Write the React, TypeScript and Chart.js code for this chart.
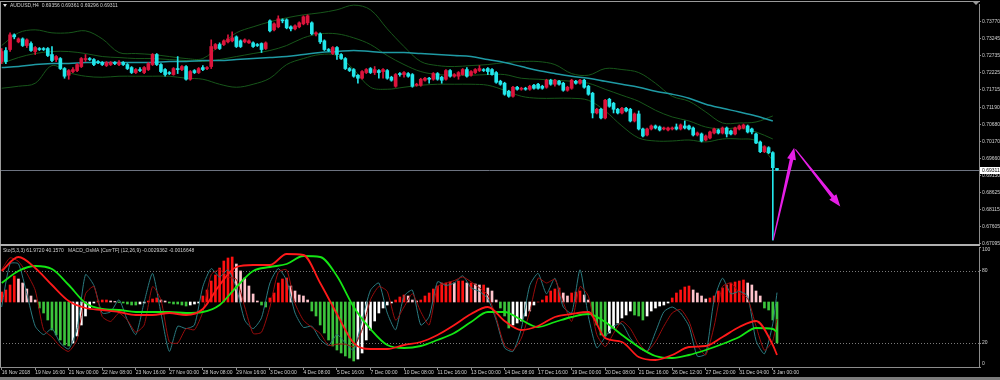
import React, { useEffect, useRef } from "react";
import { Chart, registerables } from "chart.js";
Chart.register(...registerables);

// ---------- Price data (AUDUSD H4) ----------
const open = [
0.7256,0.7289,0.7292,0.7336,0.7315,0.7324,0.7304,0.7310,0.7286,0.7295,
0.7295,0.7295,0.7277,0.7262,0.7265,0.7235,0.7215,0.7226,0.7229,0.7241,
0.7262,0.7265,0.7262,0.7256,0.7253,0.7244,0.7247,0.7253,0.7247,0.7253,
0.7247,0.7238,0.7223,0.7232,0.7223,0.7232,0.7247,0.7277,0.7247,0.7232,
0.7223,0.7217,0.7235,0.7232,0.7241,0.7203,0.7229,0.7223,0.7238,0.7235,
0.7241,0.7295,0.7307,0.7307,0.7315,0.7318,0.7330,0.7318,0.7315,0.7312,
0.7312,0.7307,0.7310,0.7295,0.7378,0.7351,0.7360,0.7381,0.7381,0.7360,
0.7354,0.7360,0.7369,0.7372,0.7372,0.7339,0.7339,0.7318,0.7292,0.7280,
0.7298,0.7277,0.7265,0.7235,0.7232,0.7215,0.7206,0.7223,0.7235,0.7223,
0.7229,0.7226,0.7229,0.7209,0.7182,0.7220,0.7217,0.7220,0.7217,0.7185,
0.7185,0.7200,0.7206,0.7203,0.7220,0.7209,0.7203,0.7229,0.7212,0.7212,
0.7217,0.7232,0.7215,0.7223,0.7229,0.7232,0.7235,0.7232,0.7223,0.7197,
0.7191,0.7167,0.7152,0.7179,0.7173,0.7176,0.7173,0.7185,0.7188,0.7182,
0.7179,0.7200,0.7188,0.7197,0.7191,0.7170,0.7176,0.7197,0.7191,0.7200,
0.7182,0.7161,0.7102,0.7113,0.7087,0.7143,0.7131,0.7113,0.7102,0.7116,
0.7113,0.7078,0.7099,0.7054,0.7036,0.7054,0.7063,0.7060,0.7054,0.7051,
0.7054,0.7060,0.7054,0.7063,0.7063,0.7057,0.7036,0.7039,0.7021,0.7027,
0.7042,0.7051,0.7042,0.7057,0.7048,0.7039,0.7054,0.7057,0.7063,0.7054,
0.7039,0.7015,0.6986,0.6998,0.6983,0.69356];
const high = [
0.7295,0.7298,0.7342,0.7339,0.7327,0.7327,0.7324,0.7315,0.7301,0.7298,
0.7298,0.7298,0.7301,0.7274,0.7268,0.7238,0.7232,0.7238,0.7250,0.7268,
0.7277,0.7268,0.7265,0.7259,0.7256,0.7256,0.7256,0.7256,0.7259,0.7256,
0.7250,0.7241,0.7235,0.7238,0.7241,0.7253,0.7280,0.7280,0.7250,0.7235,
0.7226,0.7238,0.7271,0.7244,0.7244,0.7229,0.7232,0.7238,0.7244,0.7241,
0.7321,0.7310,0.7312,0.7321,0.7336,0.7345,0.7333,0.7321,0.7324,0.7321,
0.7315,0.7310,0.7312,0.7315,0.7381,0.7372,0.7393,0.7384,0.7384,0.7363,
0.7366,0.7375,0.7393,0.7396,0.7375,0.7345,0.7342,0.7321,0.7295,0.7301,
0.7301,0.7280,0.7268,0.7238,0.7235,0.7217,0.7229,0.7235,0.7238,0.7241,
0.7232,0.7235,0.7232,0.7212,0.7220,0.7223,0.7226,0.7223,0.7220,0.7191,
0.7206,0.7209,0.7209,0.7223,0.7223,0.7212,0.7232,0.7232,0.7220,0.7226,
0.7235,0.7238,0.7229,0.7235,0.7244,0.7235,0.7238,0.7235,0.7226,0.7200,
0.7194,0.7170,0.7182,0.7182,0.7179,0.7179,0.7185,0.7188,0.7191,0.7185,
0.7203,0.7203,0.7203,0.7200,0.7194,0.7182,0.7203,0.7200,0.7203,0.7203,
0.7185,0.7164,0.7116,0.7116,0.7143,0.7146,0.7134,0.7116,0.7119,0.7119,
0.7116,0.7102,0.7108,0.7057,0.7057,0.7066,0.7066,0.7063,0.7060,0.7060,
0.7060,0.7069,0.7069,0.7078,0.7066,0.7060,0.7045,0.7042,0.7036,0.7048,
0.7057,0.7054,0.7060,0.7060,0.7051,0.7060,0.7066,0.7069,0.7066,0.7057,
0.7042,0.7018,0.7004,0.7001,0.6986,0.69361];
const low = [
0.7250,0.7250,0.7286,0.7324,0.7312,0.7301,0.7298,0.7286,0.7277,0.7289,
0.7289,0.7271,0.7256,0.7256,0.7232,0.7206,0.7203,0.7223,0.7226,0.7238,
0.7256,0.7259,0.7244,0.7250,0.7244,0.7241,0.7244,0.7247,0.7244,0.7244,
0.7232,0.7220,0.7220,0.7226,0.7220,0.7229,0.7244,0.7244,0.7223,0.7212,
0.7217,0.7215,0.7220,0.7229,0.7200,0.7200,0.7220,0.7220,0.7229,0.7232,
0.7235,0.7292,0.7292,0.7304,0.7312,0.7315,0.7298,0.7298,0.7312,0.7310,
0.7298,0.7301,0.7283,0.7292,0.7345,0.7348,0.7357,0.7372,0.7354,0.7348,
0.7351,0.7357,0.7366,0.7366,0.7336,0.7333,0.7310,0.7289,0.7286,0.7277,
0.7262,0.7262,0.7232,0.7226,0.7209,0.7191,0.7203,0.7220,0.7220,0.7217,
0.7206,0.7206,0.7203,0.7197,0.7179,0.7212,0.7209,0.7209,0.7179,0.7182,
0.7182,0.7197,0.7191,0.7200,0.7200,0.7191,0.7200,0.7209,0.7209,0.7203,
0.7215,0.7209,0.7212,0.7220,0.7226,0.7226,0.7217,0.7215,0.7191,0.7185,
0.7155,0.7149,0.7149,0.7170,0.7170,0.7170,0.7170,0.7173,0.7173,0.7173,
0.7176,0.7185,0.7182,0.7185,0.7167,0.7167,0.7173,0.7188,0.7188,0.7176,
0.7155,0.7087,0.7099,0.7084,0.7084,0.7119,0.7102,0.7099,0.7099,0.7105,
0.7075,0.7075,0.7051,0.7030,0.7033,0.7051,0.7054,0.7048,0.7051,0.7048,
0.7051,0.7051,0.7051,0.7054,0.7051,0.7033,0.7033,0.7015,0.7018,0.7024,
0.7039,0.7039,0.7039,0.7030,0.7036,0.7036,0.7051,0.7054,0.7042,0.7039,
0.7010,0.6983,0.6983,0.6980,0.6721,0.69296];
const close = [
0.7286,0.7256,0.7336,0.7330,0.7324,0.7304,0.7321,0.7289,0.7298,0.7292,
0.7292,0.7274,0.7259,0.7271,0.7235,0.7212,0.7229,0.7232,0.7247,0.7265,
0.7265,0.7262,0.7247,0.7253,0.7247,0.7253,0.7253,0.7250,0.7253,0.7247,
0.7235,0.7223,0.7232,0.7229,0.7238,0.7250,0.7277,0.7247,0.7226,0.7217,
0.7220,0.7235,0.7232,0.7241,0.7203,0.7226,0.7223,0.7235,0.7232,0.7238,
0.7301,0.7307,0.7295,0.7318,0.7324,0.7327,0.7301,0.7301,0.7321,0.7318,
0.7301,0.7304,0.7292,0.7312,0.7348,0.7369,0.7384,0.7378,0.7357,0.7354,
0.7363,0.7372,0.7390,0.7393,0.7339,0.7342,0.7315,0.7292,0.7289,0.7298,
0.7277,0.7265,0.7235,0.7229,0.7212,0.7206,0.7226,0.7232,0.7223,0.7232,
0.7223,0.7232,0.7206,0.7200,0.7217,0.7217,0.7223,0.7212,0.7182,0.7188,
0.7203,0.7206,0.7203,0.7220,0.7203,0.7200,0.7229,0.7212,0.7217,0.7223,
0.7232,0.7212,0.7226,0.7232,0.7235,0.7229,0.7226,0.7217,0.7194,0.7188,
0.7158,0.7152,0.7179,0.7173,0.7176,0.7173,0.7182,0.7176,0.7176,0.7176,
0.7200,0.7188,0.7200,0.7188,0.7170,0.7179,0.7200,0.7191,0.7200,0.7179,
0.7158,0.7102,0.7113,0.7087,0.7140,0.7122,0.7113,0.7102,0.7116,0.7108,
0.7078,0.7099,0.7054,0.7033,0.7054,0.7063,0.7057,0.7051,0.7057,0.7057,
0.7057,0.7054,0.7066,0.7057,0.7054,0.7036,0.7042,0.7018,0.7033,0.7045,
0.7054,0.7042,0.7057,0.7039,0.7039,0.7057,0.7063,0.7066,0.7045,0.7045,
0.7012,0.6986,0.7001,0.6983,0.6938,0.69311];

// ---------- Bollinger bands and moving average (sampled every 4 bars) ----------
const bandIdx = [0,4,8,12,16,20,24,28,32,36,40,44,48,52,56,60,64,68,72,76,80,84,88,92,96,100,104,108,112,116,120,124,128,132,136,140,144,148,152,156,160,164,168,172,176,180,184];
const bbUpper = [0.7304,0.7342,0.7351,0.7342,0.7342,0.7348,0.7324,0.7283,0.7280,0.7277,0.7271,0.7265,0.7265,0.7304,0.7342,0.7360,0.7375,0.7387,0.7396,0.7402,0.7411,0.7425,0.7411,0.7354,0.7301,0.7256,0.7244,0.7241,0.7244,0.7247,0.7253,0.7256,0.7256,0.7247,0.7220,0.7215,0.7235,0.7232,0.7223,0.7191,0.7152,0.7137,0.7105,0.7072,0.7072,0.7075,0.7093];
const bbMiddle = [0.7250,0.7268,0.7280,0.7286,0.7286,0.7280,0.7271,0.7268,0.7265,0.7265,0.7262,0.7259,0.7256,0.7262,0.7271,0.7280,0.7289,0.7304,0.7327,0.7339,0.7339,0.7327,0.7307,0.7274,0.7247,0.7226,0.7217,0.7215,0.7215,0.7217,0.7217,0.7206,0.7203,0.7200,0.7197,0.7191,0.7173,0.7155,0.7137,0.7110,0.7090,0.7078,0.7060,0.7054,0.7057,0.7045,0.7024];
const bbLower = [0.7176,0.7182,0.7191,0.7244,0.7223,0.7212,0.7209,0.7212,0.7212,0.7212,0.7212,0.7206,0.7203,0.7188,0.7179,0.7188,0.7206,0.7247,0.7265,0.7277,0.7274,0.7232,0.7179,0.7173,0.7179,0.7185,0.7188,0.7188,0.7188,0.7185,0.7170,0.7152,0.7146,0.7146,0.7146,0.7140,0.7108,0.7063,0.7027,0.7018,0.7018,0.7021,0.7015,0.7024,0.7024,0.7018,0.6959];
const maLine = [0.7238,0.7241,0.7247,0.7250,0.7250,0.7253,0.7253,0.7253,0.7253,0.7253,0.7256,0.7256,0.7259,0.7259,0.7262,0.7265,0.7268,0.7271,0.7277,0.7283,0.7286,0.7289,0.7286,0.7283,0.7283,0.7280,0.7277,0.7274,0.7271,0.7262,0.7253,0.7241,0.7229,0.7220,0.7212,0.7206,0.7197,0.7188,0.7179,0.7167,0.7158,0.7146,0.7128,0.7116,0.7105,0.7093,0.7078];

// ---------- Axis ticks / labels ----------
const priceTicks = [0.73770,0.73245,0.72735,0.72225,0.71715,0.71190,0.70680,0.70170,0.69660,0.69150,0.68625,0.68115,0.67605,0.67095];
const timeIdx = [0,8,16,24,32,40,48,56,64,72,80,88,96,104,112,120,128,136,144,152,160,168,176,184];
const timeLabels = ["16 Nov 2018","19 Nov 16:00","21 Nov 00:00","22 Nov 08:00","23 Nov 16:00","27 Nov 00:00","28 Nov 08:00","29 Nov 16:00","3 Dec 00:00","4 Dec 08:00","5 Dec 16:00","7 Dec 00:00","10 Dec 08:00","11 Dec 16:00","13 Dec 00:00","14 Dec 08:00","17 Dec 16:00","19 Dec 00:00","20 Dec 08:00","21 Dec 16:00","26 Dec 12:00","27 Dec 20:00","31 Dec 04:00","3 Jan 00:00"];
const oscTicks = [0, 20, 80, 100];
const oscLevels = [80, 20];

// ---------- Stochastic (5,3,3), sampled every 2 bars ----------
const stochIdx = [0,2,4,6,8,10,12,14,16,18,20,22,24,26,28,30,32,34,36,38,40,42,44,46,48,50,52,54,56,58,60,62,64,66,68,70,72,74,76,78,80,82,84,86,88,90,92,94,96,98,100,102,104,106,108,110,112,114,116,118,120,122,124,126,128,130,132,134,136,138,140,142,144,146,148,150,152,154,156,158,160,162,164,166,168,170,172,174,176,178,180,182,184,185];
const stochMain = [50,86,86,61,34,27,32,20,15,32,77,68,45,46,56,39,27,54,78,45,13,34,32,35,67,82,75,81,66,39,32,41,70,82,72,45,33,34,23,18,27,20,14,39,64,70,45,31,59,64,35,42,71,68,70,76,66,63,57,39,16,13,32,68,78,61,74,50,45,81,42,16,25,34,36,24,16,13,29,46,50,45,34,9,11,56,74,61,63,59,22,11,36,62];
const stochSignal = [81,91,88,78,64,31,25,17,13,23,61,67,42,38,45,39,29,35,67,56,21,20,32,31,46,77,81,75,73,50,28,29,50,79,81,53,39,33,28,18,19,19,17,31,56,67,63,39,50,61,46,35,67,70,72,75,71,66,60,41,18,14,24,46,74,70,73,54,38,67,59,27,17,28,38,32,20,13,21,34,45,48,38,18,10,34,67,70,62,57,34,14,22,40];

// ---------- MACD OsMA (12,26,9) ----------
const macdIdx = [0,4,8,12,16,20,24,28,32,36,40,44,48,52,56,60,64,68,72,76,80,84,88,92,96,100,104,108,112,116,120,124,128,132,136,140,144,148,152,156,160,164,168,172,176,180,184,185];
const macdMain = [0.0031,0.0045,0.0034,0.0017,0.0001,-0.0006,-0.0008,-0.0010,-0.0013,-0.0013,-0.0011,-0.0013,-0.0007,0.0017,0.0035,0.0037,0.0037,0.0048,0.0047,0.0019,-0.0012,-0.0041,-0.0047,-0.0047,-0.0043,-0.0040,-0.0033,-0.0023,-0.0012,-0.0005,-0.0019,-0.0028,-0.0024,-0.0015,-0.0012,-0.0010,-0.0036,-0.0040,-0.0055,-0.0058,-0.0053,-0.0045,-0.0044,-0.0035,-0.0025,-0.0019,-0.0043,-0.0053];
const macdSignal = [0.0019,0.0031,0.0036,0.0033,0.0017,-0.0001,-0.0007,-0.0008,-0.0010,-0.0010,-0.0010,-0.0011,-0.0010,-0.0003,0.0015,0.0031,0.0035,0.0038,0.0046,0.0045,0.0026,-0.0005,-0.0027,-0.0043,-0.0046,-0.0044,-0.0038,-0.0031,-0.0020,-0.0010,-0.0010,-0.0018,-0.0025,-0.0020,-0.0015,-0.0012,-0.0020,-0.0033,-0.0045,-0.0054,-0.0056,-0.0053,-0.0048,-0.0042,-0.0035,-0.0026,-0.0027,-0.0030];
const osma = [
0.0010,0.0012,0.0017,0.0026,0.0023,0.0019,0.0013,0.0006,0.0002,-0.0006,
-0.0011,-0.0018,-0.0028,-0.0033,-0.0038,-0.0043,-0.0044,-0.0041,-0.0034,-0.0023,
-0.0014,-0.0006,-0.0001,0.0001,0.0002,0.0002,0.0001,0.00005,-0.00005,-0.0001,
-0.0002,-0.0003,-0.0003,-0.0002,-0.0001,0.0001,0.0003,0.0004,0.0002,0.0001,
-0.0001,-0.0002,-0.0002,-0.0003,-0.0004,-0.0003,-0.0002,-0.0001,0.0006,0.0012,
0.0021,0.0027,0.0034,0.0041,0.0044,0.0045,0.0038,0.0031,0.0024,0.0016,
0.0008,0.0001,-0.0003,-0.0005,0.0004,0.0009,0.0019,0.0023,0.0024,0.0016,
0.0011,0.0007,0.0006,0.0002,-0.0009,-0.0014,-0.0023,-0.0031,-0.0038,-0.0044,
-0.0048,-0.0051,-0.0054,-0.0056,-0.0059,-0.0057,-0.0051,-0.0038,-0.0028,-0.0019,
-0.0011,-0.0006,-0.0003,-0.0001,0.0002,0.0005,0.0007,0.0006,0.0002,0.0001,
0.0002,0.0006,0.0009,0.0013,0.0016,0.0019,0.0019,0.0020,0.0019,0.0021,
0.0021,0.0019,0.0019,0.0018,0.0017,0.0017,0.0014,0.0011,0.0002,-0.0006,
-0.0014,-0.0026,-0.0023,-0.0021,-0.0019,-0.0014,-0.0009,-0.0003,0.0000,0.0002,
0.0006,0.0011,0.0013,0.0014,0.0009,0.0006,0.0009,0.0010,0.0011,0.0007,
0.0002,-0.0014,-0.0023,-0.0033,-0.0034,-0.0031,-0.0026,-0.0021,-0.0016,-0.0013,
-0.0009,-0.0013,-0.0014,-0.0018,-0.0014,-0.0009,-0.0006,-0.0004,-0.0003,-0.0001,
0.0004,0.0009,0.0012,0.0015,0.0016,0.0012,0.0009,0.0006,0.0003,0.0004,
0.0006,0.0011,0.0014,0.0017,0.0019,0.0020,0.0021,0.0022,0.0019,0.0017,
0.0011,0.0006,-0.0006,-0.0008,-0.0018,-0.0041];

// ---------- Drawn objects (arrows) in bar-index / price terms ----------
const arrowFromIdx = [184.1, 189.4];
const arrowFromPrice = [0.6721, 0.6993];
const arrowToIdx = [189.1, 200.1];
const arrowToPrice = [0.6998, 0.6822];

const symbolTitle = "AUDUSD,H4";
const oscTitle = "Sto(5,3,3) 61.9720 40.1570   MACD_OsMA [CurrTF] (12,26,9) -0.0029362 -0.0016648";

const FONT = "'Liberation Sans', Arial, sans-serif";
const UP = "#dc143c";
const DOWN = "#22e6ea";
const BB = "#17561a";
const MA = "#1f9aa4";
const AXIS = "#8c8c8c";
const TXT = "#d0d0d0";
const X_MIN = -0.4;
const X_MAX = 233.2;
const P_MIN = 0.67064;
const P_MAX = 0.74284;

function drawArrow(ctx: CanvasRenderingContext2D, x0: number, y0: number, x1: number, y1: number) {
  const dx = x1 - x0, dy = y1 - y0;
  const len = Math.hypot(dx, dy);
  const ux = dx / len, uy = dy / len, nx = -uy, ny = ux;
  const headL = 12, headW = 4.5, w0 = 0.5, w1 = 1.8;
  const bx = x1 - ux * headL, by = y1 - uy * headL;
  ctx.beginPath();
  ctx.moveTo(x0 + nx * w0, y0 + ny * w0);
  ctx.lineTo(bx + nx * w1, by + ny * w1);
  ctx.lineTo(bx + nx * headW, by + ny * headW);
  ctx.lineTo(x1, y1);
  ctx.lineTo(bx - nx * headW, by - ny * headW);
  ctx.lineTo(bx - nx * w1, by - ny * w1);
  ctx.lineTo(x0 - nx * w0, y0 - ny * w0);
  ctx.closePath();
  ctx.fill();
}

export default function App() {
  const topRef = useRef<HTMLCanvasElement | null>(null);
  const botRef = useRef<HTMLCanvasElement | null>(null);

  useEffect(() => {
    document.body.style.margin = "0";
    document.body.style.background = "#000";
    const n = open.length;
    const idx = open.map((_, i) => i);
    const candleColor = idx.map((i) => (close[i] > open[i] ? UP : DOWN));
    const last = n - 1;
    const bid = close[last];

    const topDecor = {
      id: "topDecor",
      beforeDatasetsDraw(chart: any) {
        const { ctx, chartArea: a, scales } = chart;
        const y = Math.round(scales.y.getPixelForValue(bid)) + 0.5;
        ctx.save();
        ctx.strokeStyle = "#6d7380";
        ctx.lineWidth = 1;
        ctx.beginPath();
        ctx.moveTo(a.left, y);
        ctx.lineTo(a.right, y);
        ctx.stroke();
        ctx.restore();
      },
      afterDatasetsDraw(chart: any) {
        const { ctx, scales } = chart;
        ctx.save();
        ctx.fillStyle = "#e61ee6";
        for (let k = 0; k < arrowFromIdx.length; k++) {
          drawArrow(
            ctx,
            scales.x.getPixelForValue(arrowFromIdx[k]),
            scales.y.getPixelForValue(arrowFromPrice[k]),
            scales.x.getPixelForValue(arrowToIdx[k]),
            scales.y.getPixelForValue(arrowToPrice[k])
          );
        }
        ctx.restore();
      },
      afterDraw(chart: any) {
        const { ctx, chartArea: a, scales } = chart;
        ctx.save();
        ctx.fillStyle = "#9a9a9a";
        ctx.fillRect(0, 1, a.right + 1, 1);
        ctx.fillRect(0, 1, 1, 245);
        ctx.fillStyle = "#b0b0b0";
        ctx.fillRect(0, 244, a.right + 1, 2);
        ctx.fillStyle = "#9a9a9a";
        ctx.beginPath();
        ctx.moveTo(973, 2);
        ctx.lineTo(979, 2);
        ctx.lineTo(976, 5);
        ctx.closePath();
        ctx.fill();
        ctx.fillStyle = "#e0e0e0";
        ctx.beginPath();
        ctx.moveTo(3, 4);
        ctx.lineTo(7, 4);
        ctx.lineTo(5, 7);
        ctx.closePath();
        ctx.fill();
        ctx.font = `5px ${FONT}`;
        ctx.textBaseline = "middle";
        ctx.fillStyle = TXT;
        const hdr = `${symbolTitle}  ${open[last].toFixed(5)} ${high[last].toFixed(5)} ${low[last].toFixed(5)} ${close[last].toFixed(5)}`;
        ctx.fillText(hdr, 10, 5.5);
        const y = Math.round(scales.y.getPixelForValue(bid));
        ctx.fillStyle = "#ffffff";
        ctx.fillRect(980, y - 3, 20, 7);
        ctx.fillStyle = "#000000";
        ctx.fillText(bid.toFixed(5), 982, y + 0.5);
        ctx.restore();
      },
    };

    const botDecor = {
      id: "botDecor",
      beforeDatasetsDraw(chart: any) {
        const { ctx, chartArea: a, scales } = chart;
        ctx.save();
        ctx.strokeStyle = "#7a7a7a";
        ctx.lineWidth = 1;
        ctx.setLineDash([1, 2]);
        oscLevels.forEach((lv) => {
          const y = Math.round(scales.y.getPixelForValue(lv)) + 0.5;
          ctx.beginPath();
          ctx.moveTo(a.left, y);
          ctx.lineTo(a.right, y);
          ctx.stroke();
        });
        ctx.restore();
      },
      afterDraw(chart: any) {
        const { ctx, chartArea: a } = chart;
        ctx.save();
        ctx.fillStyle = "#9a9a9a";
        ctx.fillRect(0, 6, 1, a.bottom - 6);
        ctx.fillStyle = "#7c7c7c";
        ctx.fillRect(0, 137, 1000, 3);
        ctx.font = `5px ${FONT}`;
        ctx.textBaseline = "middle";
        ctx.fillStyle = TXT;
        ctx.fillText(oscTitle, 3, 10.5);
        ctx.restore();
      },
    };

    const top = new Chart(topRef.current as HTMLCanvasElement, {
      type: "bar",
      data: {
        datasets: [
          {
            type: "bar",
            data: idx.map((i) => ({ x: i, y: [open[i], close[i]] })) as any,
            backgroundColor: candleColor,
            borderWidth: 0,
            barThickness: 3,
            grouped: false,
            order: 0,
          },
          {
            type: "bar",
            data: idx.map((i) => ({ x: i, y: [low[i], high[i]] })) as any,
            backgroundColor: candleColor,
            borderWidth: 0,
            barThickness: 1,
            grouped: false,
            order: 1,
          },
          {
            type: "line",
            data: bandIdx.map((x, k) => ({ x, y: bbUpper[k] })),
            borderColor: BB, borderWidth: 1, pointRadius: 0, tension: 0.35, order: 3,
          },
          {
            type: "line",
            data: bandIdx.map((x, k) => ({ x, y: bbMiddle[k] })),
            borderColor: BB, borderWidth: 1, pointRadius: 0, tension: 0.35, order: 3,
          },
          {
            type: "line",
            data: bandIdx.map((x, k) => ({ x, y: bbLower[k] })),
            borderColor: BB, borderWidth: 1, pointRadius: 0, tension: 0.35, order: 3,
          },
          {
            type: "line",
            data: bandIdx.map((x, k) => ({ x, y: maLine[k] })),
            borderColor: MA, borderWidth: 1.5, pointRadius: 0, tension: 0.35, order: 2,
          },
        ] as any,
      },
      options: {
        animation: false,
        responsive: false,
        devicePixelRatio: 1,
        events: [],
        layout: { padding: { top: 2, bottom: 5, left: 0, right: 0 } },
        plugins: { legend: { display: false }, tooltip: { enabled: false } },
        scales: {
          x: {
            type: "linear", min: X_MIN, max: X_MAX, offset: false, display: false,
            grid: { offset: false },
          },
          y: {
            type: "linear", position: "right", min: P_MIN, max: P_MAX,
            afterBuildTicks: (s: any) => { s.ticks = priceTicks.map((v) => ({ value: v })); },
            afterFit: (s: any) => { s.width = 21; },
            ticks: {
              autoSkip: false, padding: 1, color: TXT,
              font: { family: FONT, size: 5 },
              callback: (v: any) => Number(v).toFixed(5),
            },
            grid: { drawOnChartArea: false, drawTicks: true, tickLength: 2, color: AXIS },
            border: { display: true, color: AXIS },
          },
        },
      } as any,
      plugins: [topDecor],
    });

    const bot = new Chart(botRef.current as HTMLCanvasElement, {
      type: "bar",
      data: {
        datasets: [
          {
            type: "line",
            yAxisID: "yh",
            data: macdIdx.map((x, k) => ({ x, y: macdMain[k] })),
            borderColor: "#ff1a1a", borderWidth: 1.8, pointRadius: 0,
            cubicInterpolationMode: "monotone", order: 0,
          },
          {
            type: "line",
            yAxisID: "yh",
            data: macdIdx.map((x, k) => ({ x, y: macdSignal[k] })),
            borderColor: "#14e614", borderWidth: 1.8, pointRadius: 0,
            cubicInterpolationMode: "monotone", order: 1,
          },
          {
            type: "line",
            yAxisID: "y",
            data: stochIdx.map((x, k) => ({ x, y: stochSignal[k] })),
            borderColor: "#9a0c0c", borderWidth: 1, pointRadius: 0, tension: 0.2, order: 2,
          },
          {
            type: "line",
            yAxisID: "y",
            data: stochIdx.map((x, k) => ({ x, y: stochMain[k] })),
            borderColor: "#2a7b80", borderWidth: 1, pointRadius: 0, tension: 0.2, order: 3,
          },
          {
            type: "bar",
            yAxisID: "yh",
            data: osma.map((v, i) => ({ x: i, y: [0, v] })) as any,
            backgroundColor: osma.map((v, i) => {
              const prev = i > 0 ? osma[i - 1] : 0;
              if (v >= 0) return v >= prev ? "#ff1010" : "#ffc4cc";
              return v <= prev ? "#3cc43c" : "#ffffff";
            }),
            borderWidth: 0, barThickness: 2, grouped: false, order: 4,
          },
        ] as any,
      },
      options: {
        animation: false,
        responsive: false,
        devicePixelRatio: 1,
        events: [],
        layout: { padding: { top: 7, bottom: 0, left: 0, right: 0 } },
        plugins: { legend: { display: false }, tooltip: { enabled: false } },
        scales: {
          x: {
            type: "linear", min: X_MIN, max: X_MAX, offset: false, position: "bottom",
            afterBuildTicks: (s: any) => { s.ticks = timeIdx.map((v) => ({ value: v })); },
            afterFit: (s: any) => { s.height = 13; },
            ticks: {
              autoSkip: false, maxRotation: 0, minRotation: 0, align: "start", padding: 0,
              color: TXT, font: { family: FONT, size: 5 },
              callback: (v: any) => timeLabels[timeIdx.indexOf(Number(v))] ?? "",
            },
            grid: { drawOnChartArea: false, drawTicks: true, tickLength: 3, color: AXIS, offset: false },
            border: { display: true, color: AXIS },
          },
          y: {
            type: "linear", position: "right", min: 0, max: 100,
            afterBuildTicks: (s: any) => { s.ticks = oscTicks.map((v) => ({ value: v })); },
            afterFit: (s: any) => { s.width = 21; },
            ticks: {
              autoSkip: false, padding: 1, color: TXT,
              font: { family: FONT, size: 5 },
              callback: (v: any) => {
                const num = Number(v);
                if (num === 100) return ["", "100"];
                if (num === 0) return ["0", ""];
                return String(num);
              },
            },
            grid: { drawOnChartArea: false, drawTicks: true, tickLength: 2, color: AXIS },
            border: { display: true, color: AXIS },
          },
          yh: {
            type: "linear", display: false, min: -0.0065, max: 0.0055,
          },
        },
      } as any,
      plugins: [botDecor],
    });

    return () => {
      top.destroy();
      bot.destroy();
    };
  }, []);

  return (
    <div style={{ position: "relative", width: 1000, height: 380, background: "#000", overflow: "hidden" }}>
      <canvas ref={topRef} width={1000} height={250}
        style={{ position: "absolute", left: 0, top: 0, width: 1000, height: 250 }} />
      <canvas ref={botRef} width={1000} height={140}
        style={{ position: "absolute", left: 0, top: 240, width: 1000, height: 140 }} />
    </div>
  );
}
